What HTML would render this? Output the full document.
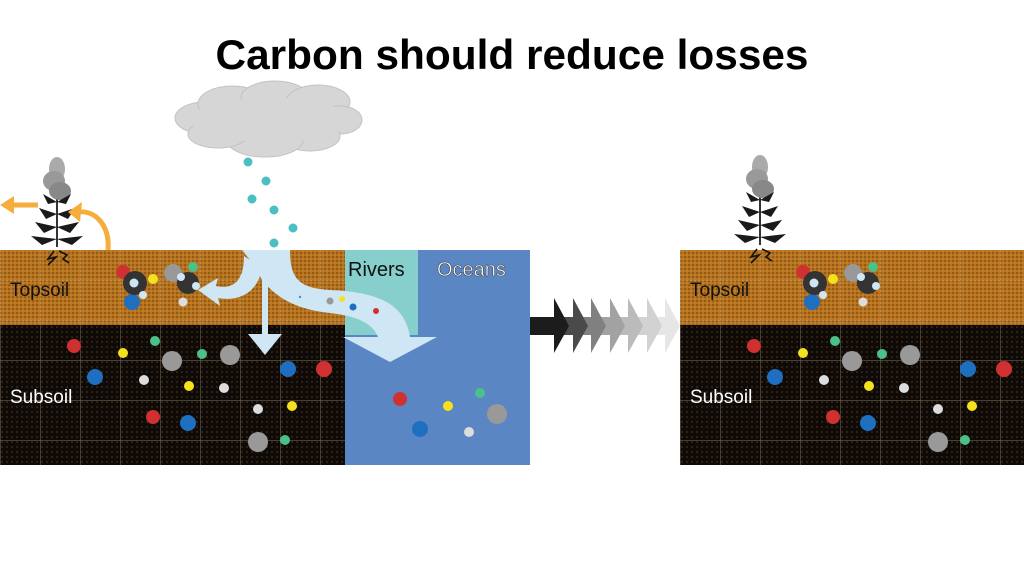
<!DOCTYPE html>
<html><head><meta charset="utf-8"><style>
html,body{margin:0;padding:0;background:#fff;width:1024px;height:576px;overflow:hidden}
svg{display:block}
text{font-family:"Liberation Sans",sans-serif}
</style></head><body>
<svg width="1024" height="576" viewBox="0 0 1024 576" xmlns="http://www.w3.org/2000/svg">
<defs>
<pattern id="tp" width="4" height="4" patternUnits="userSpaceOnUse"><rect width="4" height="4" fill="#b5731f"/><circle cx="1" cy="1" r="0.8" fill="#6b3d0e"/><circle cx="3" cy="3" r="0.8" fill="#d08a30"/></pattern>
<pattern id="sp" width="5" height="5" patternUnits="userSpaceOnUse"><rect width="5" height="5" fill="#0d0a08"/><circle cx="2" cy="2" r="0.6" fill="#8a5520"/></pattern>
<pattern id="grid" width="40" height="40" patternUnits="userSpaceOnUse"><path d="M0 0V40M0 0H40" stroke="#d8c8a8" stroke-opacity="0.55" stroke-width="1" fill="none"/></pattern>
<g id="plant">
<path d="M0,0 L0,-88" stroke="#333" stroke-width="2"/>
<ellipse cx="0" cy="-78" rx="8" ry="12" fill="#aaa"/>
<ellipse cx="-3" cy="-66" rx="11" ry="10" fill="#999"/>
<ellipse cx="3" cy="-56" rx="11" ry="9" fill="#888"/>
<path d="M0,-45 l-14,-8 l5,10z M0,-45 l14,-8 l-5,10z M0,-33 l-18,-6 l7,11z M0,-33 l18,-6 l-7,11z M0,-20 l-22,-5 l9,11z M0,-20 l22,-5 l-9,11z M0,-8 l-26,-3 l11,9z M0,-8 l26,-3 l-11,9z" fill="#1a1a1a"/>
<path d="M-3,4 l-6,8 l8,-2 l-8,8 M2,4 l8,4 l-4,4 l6,4" stroke="#111" stroke-width="1.6" fill="none"/>
</g>
</defs>
<text x="512" y="69" text-anchor="middle" font-size="42" font-weight="bold" fill="#000" textLength="593" lengthAdjust="spacingAndGlyphs">Carbon should reduce losses</text>

<g fill="#d6d6d6" stroke="#c2c2c2" stroke-width="1">
<ellipse cx="205" cy="118" rx="30" ry="16"/><ellipse cx="232" cy="104" rx="34" ry="18"/><ellipse cx="275" cy="98" rx="34" ry="17"/><ellipse cx="318" cy="102" rx="32" ry="17"/><ellipse cx="340" cy="120" rx="22" ry="14"/><ellipse cx="310" cy="136" rx="30" ry="15"/><ellipse cx="265" cy="140" rx="38" ry="17"/><ellipse cx="218" cy="134" rx="30" ry="14"/>
</g>
<ellipse cx="270" cy="120" rx="80" ry="22" fill="#d6d6d6"/>
<g fill="#4cbfc2"><circle cx="248" cy="162" r="4.5"/><circle cx="266" cy="181" r="4.5"/><circle cx="252" cy="199" r="4.5"/><circle cx="274" cy="210" r="4.5"/><circle cx="293" cy="228" r="4.5"/><circle cx="274" cy="243" r="4.5"/></g>

<rect x="0" y="250" width="345" height="75" fill="url(#tp)"/>
<rect x="0" y="325" width="345" height="140" fill="url(#sp)"/>
<rect x="0" y="250" width="345" height="215" fill="url(#grid)"/>
<rect x="680" y="250" width="344" height="75" fill="url(#tp)"/>
<rect x="680" y="325" width="344" height="140" fill="url(#sp)"/>
<rect x="680" y="250" width="344" height="215" fill="url(#grid)"/>

<rect x="345" y="250" width="185" height="215" fill="#5b86c4"/>
<rect x="345" y="250" width="73" height="85" fill="#86cfcc"/>
<text x="348" y="276" font-size="20" fill="#111">Rivers</text>
<text x="437" y="276" font-size="20" fill="#fff" stroke="#333" stroke-width="0.5">Oceans</text>

<g fill="#cfe6f5">
<path d="M242,250 L290,250 C290,280 300,288 330,290 C380,292 405,305 410,337 L437,337 L390,362 L343,337 L378,337 C372,322 355,316 330,313 C300,310 278,300 262,280 C258,272 252,262 242,250 Z"/>
<path d="M244,256 L262,268 C258,292 240,302 218,298 L220,306 L198,290 L218,278 L216,286 C234,290 244,280 244,256 Z"/>
<rect x="262" y="270" width="6" height="66"/>
<path d="M248,334 L282,334 L265,355 Z"/>
</g>
<g><circle cx="300" cy="297" r="1.2" fill="#5b86c4"/><circle cx="330" cy="301" r="3.5" fill="#999"/><circle cx="342" cy="299" r="3" fill="#f4e21c"/><circle cx="353" cy="307" r="3.5" fill="#1f6fc1"/><circle cx="376" cy="311" r="3" fill="#d03030"/></g>

<use href="#plant" x="57" y="247"/>
<use href="#plant" x="760" y="245"/>
<g fill="none" stroke="#f5ad3c" stroke-width="5">
<path d="M38,205 L12,205"/>
<path d="M108,250 C110,225 95,210 78,212"/>
</g>
<g fill="#f5ad3c"><path d="M0,205 L14,196 L14,214 Z"/><path d="M68,212 L82,202 L80,222 Z"/></g>

<text x="10" y="296" font-size="19" fill="#111">Topsoil</text>
<text x="10" y="403" font-size="19" fill="#fff">Subsoil</text>
<text x="690" y="296" font-size="19" fill="#111">Topsoil</text>
<text x="690" y="403" font-size="19" fill="#fff">Subsoil</text>

<g id="agg">
<circle cx="123" cy="272" r="7" fill="#d03030"/>
<circle cx="132" cy="302" r="8" fill="#1f6fc1"/>
<circle cx="135" cy="283" r="12" fill="#333"/>
<circle cx="134" cy="283" r="4.5" fill="#cfe6f5"/>
<circle cx="143" cy="295" r="4" fill="#cfe6f5"/>
<circle cx="153" cy="279" r="5" fill="#f4e21c"/>
<circle cx="173" cy="273" r="9" fill="#999"/>
<circle cx="193" cy="267" r="5" fill="#4cc089"/>
<circle cx="188" cy="283" r="11" fill="#333"/>
<circle cx="181" cy="277" r="4" fill="#cfe6f5"/>
<circle cx="196" cy="286" r="4" fill="#cfe6f5"/>
<circle cx="183" cy="302" r="4.5" fill="#ddd"/>
</g>
<use href="#agg" x="680" y="0"/>
<g id="sub">
<circle cx="74" cy="346" r="7" fill="#d03030"/><circle cx="123" cy="353" r="5" fill="#f4e21c"/><circle cx="155" cy="341" r="5" fill="#4cc089"/><circle cx="172" cy="361" r="10" fill="#999"/><circle cx="202" cy="354" r="5" fill="#4cc089"/><circle cx="230" cy="355" r="10" fill="#999"/><circle cx="95" cy="377" r="8" fill="#1f6fc1"/><circle cx="144" cy="380" r="5" fill="#ddd"/><circle cx="189" cy="386" r="5" fill="#f4e21c"/><circle cx="224" cy="388" r="5" fill="#ddd"/><circle cx="288" cy="369" r="8" fill="#1f6fc1"/><circle cx="324" cy="369" r="8" fill="#d03030"/><circle cx="153" cy="417" r="7" fill="#d03030"/><circle cx="188" cy="423" r="8" fill="#1f6fc1"/><circle cx="258" cy="409" r="5" fill="#ddd"/><circle cx="292" cy="406" r="5" fill="#f4e21c"/><circle cx="258" cy="442" r="10" fill="#999"/><circle cx="285" cy="440" r="5" fill="#4cc089"/>
</g>
<use href="#sub" x="680" y="0"/>
<circle cx="400" cy="399" r="7" fill="#d03030"/><circle cx="448" cy="406" r="5" fill="#f4e21c"/><circle cx="480" cy="393" r="5" fill="#4cc089"/><circle cx="497" cy="414" r="10" fill="#999"/><circle cx="420" cy="429" r="8" fill="#1f6fc1"/><circle cx="469" cy="432" r="5" fill="#ddd"/>

<g>
<path d="M640,317 H665 V298 L680,326 L665,353 V335 H640 Z" fill="#e6e6e6"/>
<path d="M622,317 H647 V298 L662,326 L647,353 V335 H622 Z" fill="#d2d2d2"/>
<path d="M603,317 H628 V298 L643,326 L628,353 V335 H603 Z" fill="#bbbbbb"/>
<path d="M585,317 H610 V298 L625,326 L610,353 V335 H585 Z" fill="#a2a2a2"/>
<path d="M566,317 H591 V298 L606,326 L591,353 V335 H566 Z" fill="#808080"/>
<path d="M548,317 H573 V298 L588,326 L573,353 V335 H548 Z" fill="#4a4a4a"/>
<path d="M530,317 H554 V298 L569,326 L554,353 V335 H530 Z" fill="#1c1c1c"/>
</g>
</svg>
</body></html>
